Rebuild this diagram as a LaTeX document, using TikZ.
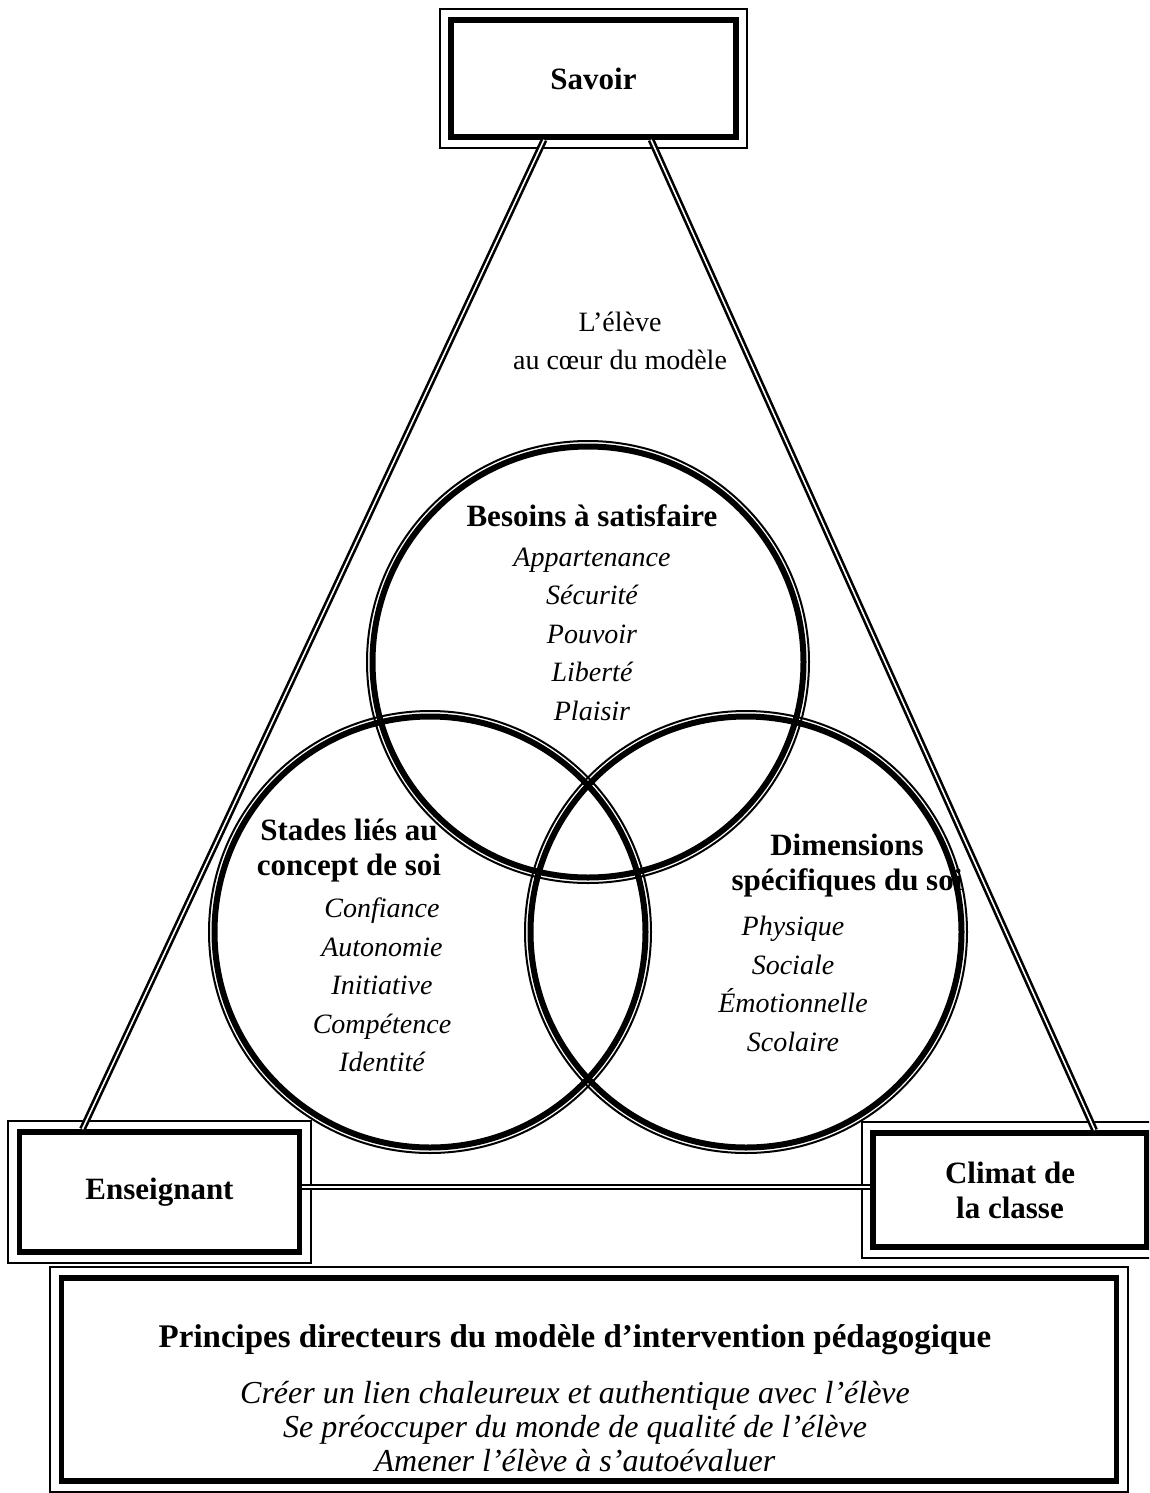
\documentclass[tikz,border=0pt]{standalone}
\usepackage{fontspec}
\setmainfont{Liberation Serif}
\usetikzlibrary{calc}
\usetikzlibrary{positioning}

\newcommand{\boxfont}{\fontsize{31}{35}\selectfont\bfseries}
\newcommand{\listfont}{\fontsize{28}{38.5}\selectfont\itshape}
\newcommand{\plainfont}{\fontsize{28}{38}\selectfont}
\newcommand{\titlefont}{\fontsize{33}{38}\selectfont\bfseries}
\newcommand{\rulefont}{\fontsize{32}{34}\selectfont\itshape}

\begin{document}
\begin{tikzpicture}[x=1pt, y=-1pt,
    frame/.style={draw, fill=white, line width=5.5pt, inner sep=0pt, align=center, font=\boxfont},
    outline/.style={line width=1.8pt},
    link/.style={double, double distance=1.6pt, line width=2.6pt},
    ringthin/.style={line width=2pt},
    ringthick/.style={line width=6pt},
    head/.style={align=center, font=\boxfont},
    items/.style={align=center, font=\listfont}]
        \useasboundingbox (0, 0) rectangle (1149, 1493);
        \clip (0, 0) rectangle (1149, 1493);

        \coordinate (ctop) at (588, 662);
        \coordinate (cleft) at (430, 932);
        \coordinate (cright) at (746, 932);

        \foreach \c in {ctop, cleft, cright} {
            \draw[ringthin] (\c) circle (221);
            \draw[ringthick] (\c) circle (215.5);
        }

        \node[frame, minimum width=285pt, minimum height=117pt] (savoir) at (593.5, 78.5) {Savoir};
        \node[frame, minimum width=280pt, minimum height=120pt] (ens) at (159.5, 1192) {Enseignant};
        \node[frame, minimum width=274pt, minimum height=114pt] (climat) at (1010, 1190) {Climat de\\la classe};
        \node[frame, minimum width=1055pt, minimum height=203pt] (principes) at (589, 1379.5) {};

        \foreach \n in {savoir, ens, climat, principes}
            \draw[outline] ([shift={(-8.5, 8.5)}]\n.south west) rectangle ([shift={(8.5, -8.5)}]\n.north east);

        \draw[link] ($(savoir.south west)!0.33!(savoir.south east)$) -- ($(ens.north west)!0.23!(ens.north east)$);
        \draw[link] ($(savoir.south west)!0.698!(savoir.south east)$) -- ($(climat.north west)!0.803!(climat.north east)$);
        \draw[link] ([yshift=5pt]ens.east) -- ([yshift=5pt]ens.east -| climat.west);

        \node[align=center, font=\plainfont] (coeur) at (620, 341) {L'élève\\au cœur du modèle};

        \node[head] (besoins) at (592, 516) {Besoins à satisfaire};
        \node[items] (besoinslist) at (592, 634) {Appartenance\\Sécurité\\Pouvoir\\Liberté\\Plaisir};

        \node[head] (stades) at (349, 851) {Stades liés au\\concept de soi};
        \node[items] (stadeslist) at (382, 985) {Confiance\\Autonomie\\Initiative\\Compétence\\Identité};

        \node[head] (dims) at (847, 866) {Dimensions\\spécifiques du soi};
        \node[items] (dimslist) at (793, 984) {Physique\\Sociale\\Émotionnelle\\Scolaire};

        \node[font=\titlefont] (titre) at (575, 1340) {Principes directeurs du modèle d'intervention pédagogique};
        \node[align=center, font=\rulefont] (regles) at (575, 1427) {Créer un lien chaleureux et authentique avec l'élève\\Se préoccuper du monde de qualité de l'élève\\Amener l'élève à s'autoévaluer};
    \end{tikzpicture}
\end{document}
